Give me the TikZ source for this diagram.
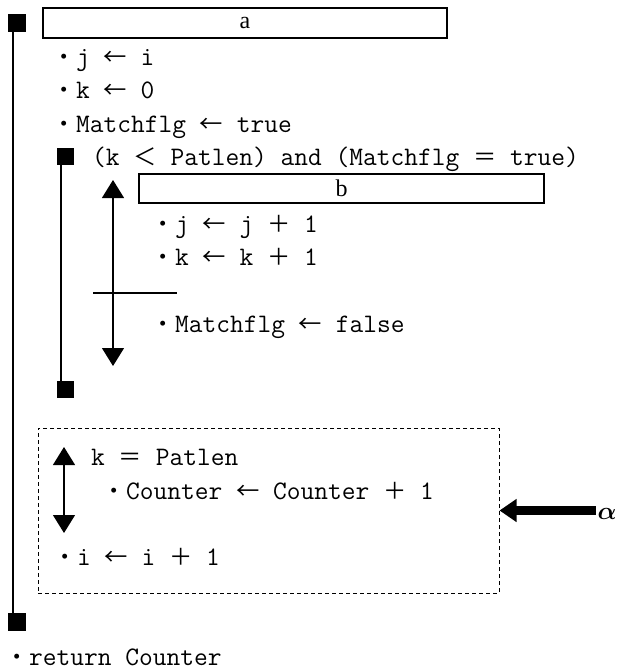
\documentclass[tikz,border=0pt]{standalone}
\usepackage{fontspec}
\usepackage{bm}
\newfontfamily\jpfont{Noto Sans CJK JP}
\newfontfamily\labelserif{Liberation Serif}
\usetikzlibrary{arrows.meta,positioning}
\newcommand{\codefont}{\fontsize{26.7}{30}\selectfont\ttfamily}
\newcommand{\labelfont}{\fontsize{24}{28}\selectfont\labelserif}
\newcommand{\zw}[1]{\makebox[23.3pt]{\fontsize{23.3}{28}\selectfont\jpfont #1}}
\newcommand{\zbul}{\zw{・}}
\newcommand{\zarr}{\zw{←}}
\newcommand{\zlt}{\zw{＜}}
\newcommand{\zeq}{\zw{＝}}
\newcommand{\zplus}{\zw{＋}}

\begin{document}
\begin{tikzpicture}[x=1pt, y=-1pt,
  code/.style={anchor=base west, inner sep=0pt, font=\codefont},
  blank/.style={draw, line width=2pt, minimum height=30pt, minimum width=404pt, inner sep=0pt, font=\labelfont},
  loopmark/.style={fill, inner sep=0pt, minimum size=#1},
  loopline/.style={line width=1.3pt},
  sel/.style={{Triangle[width=22pt,length=18pt]}-{Triangle[width=22pt,length=18pt]}, line width=1.2pt},
  fat/.style={-{Triangle[width=22pt,length=17pt]}, line width=9pt}
]
\useasboundingbox (0,0) rectangle (617,670);

% outer loop
\node[loopmark=18pt] (otop) at (17,23) {};
\node[loopmark=18pt] (obot) at (17,622) {};
\draw[loopline] ([xshift=-4pt]otop.south) -- ([xshift=-4pt]obot.north);

\node[blank] (boxa) at (245,22.5) {a};
\node[code] (s1) at (52.5,65) {\zbul{}j \zarr{} i};
\node[code] (s2) at (52.5,98.5) {\zbul{}k \zarr{} 0};
\node[code] (s3) at (52.5,132) {\zbul{}Matchflg \zarr{} true};

% inner loop
\node[loopmark=17pt] (itop) at (65.5,156.5) {};
\node[loopmark=17pt] (ibot) at (65.5,389.5) {};
\draw[loopline] ([xshift=-4.5pt]itop.south) -- ([xshift=-4.5pt]ibot.north);
\node[code] (cond) at (92,165) {(k \zlt{} Patlen) and (Matchflg \zeq{} true)};

\node[blank, minimum width=405pt, minimum height=29pt] (boxb) at (341.5,188.5) {b};
\coordinate (selatop) at (113,180);
\coordinate (selabot) at (113,366);
\draw[sel] (selatop) -- (selabot);
\coordinate (divl) at (93,293);
\coordinate (divr) at (177,293);
\draw[line width=1.2pt] (divl) -- (divr);
\node[code] (s4) at (151.5,232) {\zbul{}j \zarr{} j \zplus{} 1};
\node[code] (s5) at (151.5,265) {\zbul{}k \zarr{} k \zplus{} 1};
\node[code] (s6) at (151.5,332) {\zbul{}Matchflg \zarr{} false};

% dashed block
\node[draw, dash pattern=on 4pt off 3pt, line width=1pt, minimum width=461pt, minimum height=165pt] (blk) at (268.5,510.5) {};
\coordinate (selbtop) at (64,447);
\coordinate (selbbot) at (64,533);
\draw[sel] (selbtop) -- (selbbot);
\node[code] (s7) at (91,465) {k \zeq{} Patlen};
\node[code] (s8) at (102.5,499) {\zbul{}Counter \zarr{} Counter \zplus{} 1};
\node[code] (s9) at (53.5,565) {\zbul{}i \zarr{} i \zplus{} 1};

\node[anchor=base, inner sep=1.5pt, font=\fontsize{23}{26}\selectfont] (alpha) at (607,519) {$\bm{\alpha}$};
\draw[fat] (blk.east -| alpha.west) -- (blk.east);

\node[code] (s10) at (5.5,665) {\zbul{}return Counter};
\end{tikzpicture}
\end{document}
